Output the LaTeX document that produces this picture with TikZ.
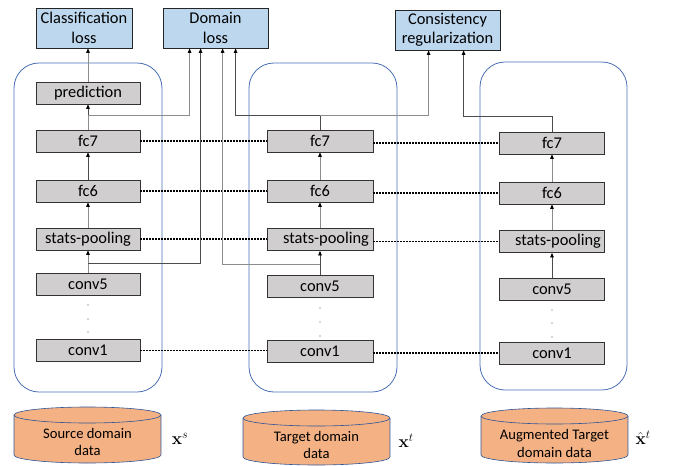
\documentclass[tikz,border=0pt]{standalone}
\usepackage[no-math]{fontspec}
\setmainfont{Carlito}
\usetikzlibrary{arrows.meta,calc}
\definecolor{lossblue}{HTML}{BDD7EE}
\definecolor{layergray}{HTML}{D0CECE}
\definecolor{dataorange}{HTML}{F4B183}
\definecolor{frameblue}{HTML}{4A6FB5}
\definecolor{cylblue}{HTML}{2F5597}

% data store drawn as a cylinder: centre x, top-ellipse y, bottom-ellipse y
\newcommand\datacyl[3]{%
  \fill[dataorange] (#1-73.5,#2) rectangle (#1+73.5,#3);
  \fill[dataorange] (#1,#3) ellipse[x radius=73.5pt, y radius=8pt];
  \draw[cylblue, line width=0.6pt] (#1-73.5,#2) -- (#1-73.5,#3)
    arc[start angle=180, end angle=360, x radius=73.5pt, y radius=8pt] -- (#1+73.5,#2);
  \draw[cylblue, line width=0.6pt, fill=dataorange] (#1,#2) ellipse[x radius=73.5pt, y radius=8pt];
}

\begin{document}
\begin{tikzpicture}[x=1pt,y=-1pt,
  lossbox/.style={draw=black!85, line width=0.8pt, fill=lossblue, inner sep=0pt,
    align=center, minimum height=40pt, font=\fontsize{16.4}{19.5}\selectfont},
  layer/.style={draw=black!80, line width=0.8pt, fill=layergray, inner sep=0pt,
    minimum height=22pt, font=\fontsize{16.4}{19.5}\selectfont},
  column/.style={draw=frameblue, line width=0.8pt, rounded corners=25pt},
  link/.style={draw=black!70, line width=0.7pt,
    -{Triangle[length=4.5pt,width=3.6pt,color=black]}},
  linklight/.style={link, draw=black!45},
  tie/.style={line width=1.3pt, dash pattern=on 1.4pt off 1.6pt},
  datalabel/.style={align=center, font=\fontsize{14.6}{17.6}\selectfont},
  mathlabel/.style={font=\fontsize{17}{20}\selectfont}
]
\useasboundingbox (0,0) rectangle (675,466);

% network columns
\draw[column] (14,63) rectangle (162,392);
\draw[column] (249,63) rectangle (397,392);
\draw[column] (480,62) rectangle (627,390);

% losses
\node[lossbox, minimum width=96pt] (cls) at (84,28) {Classification\\loss};
\node[lossbox, minimum width=105pt] (dom) at (215.5,28) {Domain\\loss};
\node[lossbox, minimum width=105pt] (cons) at (447.5,30) {Consistency\\regularization};

% source branch
\node[layer, minimum width=104pt] (lpred) at (88,93) {prediction};
\node[layer, minimum width=104pt] (lfc7) at (88,141) {fc7};
\node[layer, minimum width=104pt] (lfc6) at (88,191) {fc6};
\node[layer, minimum width=104pt] (lstats) at (88,239) {stats-pooling};
\node[layer, minimum width=104pt] (lconv5) at (88,284.5) {conv5};
\node[layer, minimum width=104pt] (lconv1) at (88,350.5) {conv1};

% target branch
\node[layer, minimum width=106pt] (mfc7) at (320,141) {fc7};
\node[layer, minimum width=106pt] (mfc6) at (320,191) {fc6};
\node[layer, minimum width=106pt] (mstats) at (320,239.5) {\hspace*{12pt}stats-pooling};
\node[layer, minimum width=106pt] (mconv5) at (320,286.5) {conv5};
\node[layer, minimum width=106pt] (mconv1) at (320,351) {conv1};

% augmented target branch
\node[layer, minimum width=105pt] (rfc7) at (552,143) {fc7};
\node[layer, minimum width=105pt] (rfc6) at (552,193) {fc6};
\node[layer, minimum width=105pt] (rstats) at (552,241.5) {\hspace*{12pt}stats-pooling};
\node[layer, minimum width=105pt] (rconv5) at (552,289.5) {conv5};
\node[layer, minimum width=105pt] (rconv1) at (552,353) {conv1};

% elided layers
\foreach \y in {305,319,332} \fill[black!70] (88,\y) circle[radius=0.7pt];
\foreach \y in {308,322,336} \fill[black!70] (320,\y) circle[radius=0.7pt];
\foreach \y in {310,323,337} \fill[black!70] (552,\y) circle[radius=0.7pt];

% shared weights
\foreach \a/\b/\c in {lfc7/mfc7/rfc7, lfc6/mfc6/rfc6, lstats/mstats/rstats, lconv1/mconv1/rconv1}{
  \draw[tie] (\a.east) -- (\a.east -| \b.west);
  \draw[tie] (\c.west -| \b.east) -- (\c.west);
}

% source flow
\draw[linklight] (lpred.north) -- (lpred.north |- cls.south);
\draw[link] (lfc7.north) -- (lpred.south);
\draw[linklight] (lfc7.north) -- ++(0,-14) -| ($(dom.south west)+(27,0)$);
\draw[link] (lfc6.north) -- (lfc7.south);
\draw[linklight] (lstats.north) -- (lfc6.south);
\draw[linklight] (lconv5.north) -- (lstats.south);
\draw[link] ($(lstats.south)+(0,13)$) -| ($(dom.south west)+(38,0)$);

% target flow
\draw[link] (mfc7.north) -- ++(0,-14) coordinate (mtap) -| ($(dom.south west)+(73,0)$);
\draw[linklight] (mtap) -| ($(cons.south west)+(34,0)$);
\draw[linklight] (mfc6.north) -- (mfc7.south);
\draw[linklight] (mstats.north) -- (mfc6.south);
\draw[link] (mconv5.north) -- (mstats.south);
\draw[linklight] ($(mstats.south)+(0,13)$) -| ($(dom.south west)+(60,0)$);

% augmented flow
\draw[link] (rfc7.north) -- ++(0,-15) -| ($(cons.south west)+(69,0)$);
\draw[linklight] (rfc6.north) -- (rfc7.south);
\draw[linklight] (rstats.north) -- (rfc6.south);
\draw[link] (rconv5.north) -- (rstats.south);

% data sources
\datacyl{87.5}{415}{455}
\node[datalabel] (src) at (87.5,442) {Source domain\\data};
\datacyl{316.5}{418}{457}
\node[datalabel] (tgt) at (316.5,445) {Target domain\\data};
\datacyl{554.5}{416}{455}
\node[datalabel] (aug) at (554.5,443.5) {Augmented Target\\domain data};

\node[mathlabel] (xs) at (180,439) {$\mathbf{x}^s$};
\node[mathlabel] (xt) at (406,441) {$\mathbf{x}^t$};
\node[mathlabel] (xa) at (643,438) {$\hat{\mathbf{x}}^t$};
\end{tikzpicture}
\end{document}
